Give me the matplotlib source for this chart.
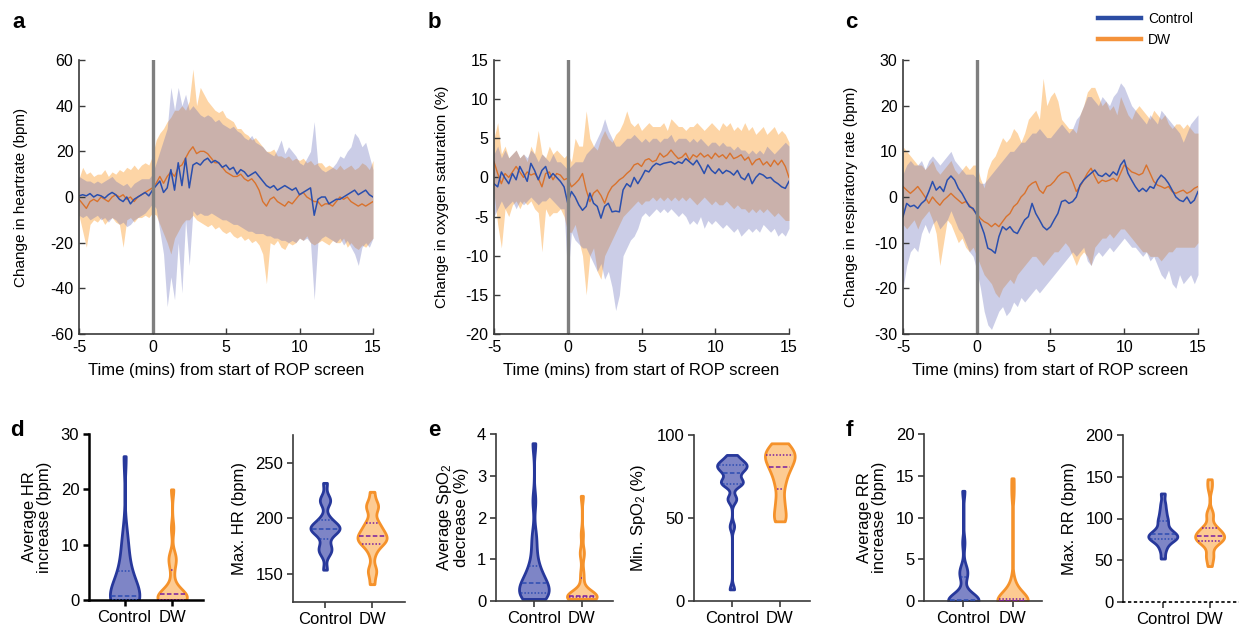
import numpy as np
import matplotlib.pyplot as plt
from matplotlib.lines import Line2D

plt.rcParams['font.family'] = ['Liberation Sans', 'DejaVu Sans']
plt.rcParams['mathtext.fontset'] = 'custom'
plt.rcParams['mathtext.rm'] = 'Liberation Sans'
plt.rcParams['mathtext.it'] = 'Liberation Sans:italic'
plt.rcParams['axes.unicode_minus'] = False

# time grid (minutes from start of ROP screen), 0.25 min steps
minutes = np.arange(-5, 15.25, 0.25)

# ---- a: heart rate change (bpm) ----
hr_ctrl_mean = [0.5, 1, 0.5, 1.5, 0, 1, 0.5, -0.5, 1, 2,
                1, -1, -2, 0, -3, -1, 0, 1, 2, 0.5,
                3, 5, 7, 2, 4, 12, 3, 15, 5, 17,
                4, 14, 15, 14, 16, 17, 15, 16, 15, 13,
                14, 12, 13, 10, 12, 11, 9, 10, 11, 9,
                7, 5, 4, 5, 3, 4, 5, 4, 3, 4,
                1, 2, 3, 4, -8, -1, 0, 0, -3, -2,
                -1, -1, 0, 1, 2, 3, 1, 2, 3, 1, 0]
hr_ctrl_hi = [9, 8, 7, 7, 6, 7, 6, 7, 8, 9,
              7, 6, 5, 6, 4, 6, 7, 8, 8, 8,
              10, 15, 20, 25, 30, 48, 38, 48, 40, 45,
              38, 40, 38, 36, 35, 36, 35, 33, 34, 32,
              31, 30, 31, 29, 28, 26, 25, 27, 24, 23,
              22, 20, 19, 18, 21, 25, 19, 22, 20, 18,
              15, 14, 17, 20, 33, 14, 12, 11, 12, 13,
              15, 18, 17, 20, 22, 28, 26, 22, 24, 18, 12]
hr_ctrl_lo = [-8, -9, -8, -10, -9, -8, -10, -9, -11, -9,
              -10, -12, -11, -13, -12, -10, -9, -8, -7, -5,
              -3, -5, -15, -25, -48, -35, -45, -20, -42, -10,
              -30, -6, -8, -7, -8, -8, -7, -8, -9, -10,
              -10, -11, -12, -12, -13, -14, -15, -15, -16, -16,
              -16, -17, -17, -18, -18, -19, -19, -20, -19, -20,
              -18, -19, -18, -20, -45, -20, -18, -17, -18, -19,
              -20, -18, -21, -19, -22, -25, -30, -22, -20, -22, -18]
hr_dw_mean = [-1, -3, -5, -2, -1, -2, 0, -1, -2, 0,
              1, 0, 1, -1, 0, -2, 0, 1, 2, 3,
              4, 6, 9, 6, 9, 11, 9, 13, 14, 17,
              20, 22, 19, 20, 20, 19, 17, 15, 15, 13,
              11, 10, 9, 9, 10, 8, 7, 8, 6, 3,
              -2, -4, -1, 0, -2, -3, -4, -2, -3, -1,
              1, 2, 0, -1, -2, -2, -4, -3, -3, -4,
              -2, 0, -1, 0, -2, -3, -4, -3, -4, -3, -2]
hr_dw_hi = [8, 13, 10, 11, 9, 10, 10, 12, 9, 11,
            10, 12, 11, 13, 12, 14, 12, 14, 15, 14,
            18, 25, 28, 30, 33, 35, 38, 38, 40, 38,
            42, 56, 40, 48, 45, 42, 40, 38, 37, 38,
            35, 34, 33, 30, 30, 28, 27, 25, 26, 24,
            22, 20, 20, 21, 18, 18, 17, 18, 16, 17,
            16, 17, 15, 16, 14, 15, 15, 13, 14, 13,
            12, 14, 12, 13, 14, 12, 13, 15, 14, 12, 16]
hr_dw_lo = [-8, -15, -22, -12, -10, -11, -9, -12, -10, -9,
            -11, -12, -22, -10, -9, -11, -9, -9, -8, -9,
            -7, -8, -12, -16, -20, -25, -18, -15, -12, -10,
            -10, -8, -10, -11, -12, -13, -12, -14, -13, -15,
            -16, -15, -17, -18, -17, -19, -18, -20, -19, -21,
            -25, -38, -20, -21, -19, -22, -23, -20, -21, -20,
            -18, -19, -17, -20, -21, -20, -19, -20, -21, -19,
            -20, -20, -18, -22, -20, -22, -23, -21, -22, -20, -18]

# ---- b: oxygen saturation change (%) ----
sat_ctrl_mean = [-0.8, -1.2, 0.7, -0.1, -0.8, 0.5, -0.3, 1.4, 0.5, -0.5,
                 1.8, 0.9, -0.3, 0.9, 1.4, -0.1, 0.5, 0, -0.5, -1.2,
                 -3.3, -1.8, -2.5, -3.5, -4.2, -3.7, -2, -3.3, -3.7, -5.2,
                 -3.7, -3.3, -4.4, -4.3, -4.4, -1.6, -0.8, -1.2, 0, -0.8,
                 0, 0.9, 0.7, 1.4, 1.8, 1.6, 1.8, 1.9, 2, 1.7,
                 2, 1.8, 2.4, 2, 1.6, 2.2, 1.4, 0.5, 1.6, 0.9,
                 0.5, 1.1, 0.5, 0.9, 0.7, 0.3, 0.9, 0, -0.3, 0.5,
                 -0.8, 0, 0.5, 0.3, -0.1, 0, -0.5, -0.8, -1.2, -1.4, -0.5]
sat_ctrl_hi = [3, 4, 2.5, 3.5, 2.5, 3, 3.5, 2.5, 3, 2.5,
               3.5, 3, 2, 3, 2.5, 2, 3, 2, 2, 1.5,
               1, 1.5, 2, 2, 2, 3, 3.5, 4, 5, 6,
               7.5, 6, 5, 4, 4, 4.5, 5, 5, 5.5, 5,
               4.5, 5, 4.5, 5, 5, 4.5, 5, 5, 5.5, 4.5,
               5, 5, 5, 4.5, 5, 4.5, 5, 4.5, 4, 4.5,
               4.5, 4, 4.5, 4, 4, 3.5, 4, 3.5, 3.5, 3,
               3.5, 3, 3.5, 3, 4, 3.5, 3, 3.5, 4, 4.5, 4]
sat_ctrl_lo = [-5, -4, -3, -4, -3.5, -3, -4, -3, -3.5, -3,
               -2.5, -3, -3.5, -3, -3, -2.5, -3, -3.5, -4, -4,
               -13, -7, -8, -8.5, -9, -9, -10, -11, -12, -11,
               -13, -12, -14, -17, -15, -10, -9, -8, -7.5, -6.5,
               -5, -4.5, -5, -4.5, -4, -4.5, -4, -4.5, -4, -4.5,
               -5, -4.5, -5, -6, -5.5, -6, -5, -6.5, -5.5, -6,
               -5.5, -6, -6.5, -6, -6.5, -7, -6.5, -7.5, -7, -6.5,
               -7, -6.5, -7, -6, -6.5, -7, -6.5, -7.5, -7, -7.5, -6.5]
sat_dw_mean = [2, 0.5, -0.8, 0.5, 0, 0.7, 1.4, 0.7, 0, 0.7,
               0.3, 0.5, -0.1, -1.2, 0.5, 0.7, -0.3, 0.5, 0.3, -0.3,
               -0.1, -1.2, -0.8, -0.3, 0.5, -1.6, -3.1, -2, -1.6, -2.3,
               -3.3, -2, -1.2, -0.8, -0.3, 0, 0.5, 0.9, 1.6, 1.8,
               1.4, 2.2, 2.4, 2, 2.2, 3.1, 2.6, 2.9, 3.5, 2.9,
               2.4, 2.6, 3.1, 2.2, 2.9, 2.6, 3.1, 2.6, 2.9, 2.4,
               3.1, 2.6, 2.9, 2.4, 3.1, 2.4, 2.6, 2.9, 2.2, 2.6,
               1.6, 2.2, 2.4, 1.6, 2, 1.4, 2.2, 1.6, 2.2, 1.4, 0]
sat_dw_hi = [5, 7, 3, 4, 2.5, 3, 3.5, 2.5, 3, 2,
             4, 3, 6, 3, 2.5, 4, 3, 3.5, 3, 2.5,
             3, 2, 5, 4, 4, 8.5, 5, 4, 3.5, 5,
             6, 5, 4.5, 5.5, 6, 7, 8.5, 7, 6.5, 7,
             6, 6.5, 7, 6.5, 6.5, 6.5, 7, 6, 7.5, 7,
             6.5, 6.5, 6, 6.5, 6.5, 7, 6.5, 6, 6.5, 7,
             6.5, 6, 7, 6.5, 7, 6, 6.5, 6, 7, 6,
             6.5, 5.5, 6, 6.5, 5.5, 6, 6.5, 5.5, 6, 5.5, 4.5]
sat_dw_lo = [-2, -6, -9, -4, -5, -3.5, -3, -4, -3, -3.5,
             -3, -4, -4.5, -9.5, -4, -5, -4.5, -4.5, -4, -5,
             -7, -7, -6, -8, -10, -15, -10, -9, -12, -13,
             -10, -9, -8, -7, -6, -5, -4.5, -4, -3.5, -3,
             -3.5, -3, -3, -2.5, -3, -2.5, -3, -2.5, -3, -2.5,
             -3, -2.5, -3, -2.5, -3, -3.5, -3, -2.5, -3, -3.5,
             -3, -3.5, -3.5, -3, -3.5, -4, -3.5, -4, -4, -4.5,
             -4, -4.5, -4, -4.5, -4, -4.5, -5, -4.5, -5, -5.5, -5.5]

# ---- c: respiratory rate change (bpm) ----
rr_ctrl_mean = [-4.3, -1.4, -2.1, -1.8, -2.5, -1.4, -0.7, 1.2, 3.4, 1.5,
                2.3, 1.2, 3.7, 4.6, 3.7, 1.9, 0.8, -0.7, -2.1, -2.5,
                -3.9, -5.8, -8, -11.2, -11.6, -12.3, -8.7, -6.5, -7.2, -6.5,
                -7.6, -8, -6.5, -5, -4.3, -1.4, -3.6, -5, -6.5, -7.2,
                -6.5, -5, -3.6, -1, -0.7, -1.4, -1, 0, 2.6, 3.7,
                4.5, 5.2, 5.9, 4.8, 4.5, 5.2, 4.5, 5.5, 4.8, 7,
                8.1, 5.2, 3.7, 2.3, 1.2, 1.9, 1.2, 2.3, 1.9, 3.7,
                4.8, 4.1, 3, 1.5, 0, -0.7, -1, 0, -1.4, -0.7, 1.2]
rr_ctrl_hi = [5, 7, 8, 7, 7, 8, 6, 8, 9, 8,
              7, 8, 9, 10, 8, 7, 6, 5, 5, 5,
              4, 3, 3, 4, 5, 6, 7, 8, 9, 10,
              10, 11, 12, 12, 13, 14, 14, 15, 14, 13,
              13, 14, 15, 16, 15, 14, 15, 17, 18, 20,
              22, 22, 21, 20, 22, 21, 20, 22, 23, 25,
              24, 22, 20, 19, 18, 17, 16, 18, 17, 16,
              19, 18, 17, 16, 15, 14, 12, 14, 16, 17, 18]
rr_ctrl_lo = [-20, -15, -12, -11, -12, -8, -6, -8, -6, -5,
              -7, -6, -5, -3, -5, -7, -8, -10, -12, -13,
              -16, -20, -25, -28, -29, -27, -25, -24, -26, -25,
              -23, -24, -22, -23, -22, -21, -20, -21, -20, -19,
              -18, -17, -16, -15, -14, -13, -12, -13, -12, -11,
              -14, -15, -13, -12, -13, -12, -11, -12, -11, -10,
              -9, -10, -11, -11, -12, -13, -12, -14, -13, -15,
              -17, -18, -16, -19, -20, -17, -19, -18, -17, -19, -17]
rr_dw_mean = [2.3, 1.5, 0.8, 1.5, 2.3, 1.2, 0, -1.4, 0, -1,
              -1.8, -0.7, 0, 0.8, 0, -0.7, -1.4, -1, -1.8, -2.8,
              -3.6, -4.7, -5.4, -5.8, -6.5, -5.8, -6.5, -5.4, -4.3, -3.6,
              -2.1, -1.4, 0, 0.8, 2.3, 3, 3.4, 1.5, 0.8, 2.3,
              2.6, 3.4, 4.5, 5.2, 5.5, 5.2, 3.4, 1.2, 2.3, 3.7,
              5.2, 6.3, 4.5, 3, 3.7, 3.4, 3.7, 4.1, 3.4, 5.2,
              7, 6.3, 5.5, 5.2, 4.8, 5.2, 7, 5.2, 3.4, 2.6,
              2.3, 1.9, 2.3, 1.2, 0.8, 1.2, 1.5, 0.8, 1.2, 1.9, 2.3]
rr_dw_hi = [11, 10, 9, 8, 7, 7, 6, 7, 8, 6,
            5, 6, 7, 8, 6, 5, 6, 7, 6, 7,
            7, 4, 2, 6, 8, 9, 11, 13, 12, 13,
            15, 14, 12, 14, 17, 18, 19, 17, 26, 20,
            22, 23, 21, 17, 16, 15, 15, 14, 18, 20,
            23, 24, 24, 22, 20, 21, 19, 20, 18, 22,
            20, 18, 17, 19, 20, 19, 18, 17, 19, 18,
            17, 18, 16, 15, 16, 16, 15, 16, 15, 14, 14]
rr_dw_lo = [-6, -7, -6, -5, -7, -5, -4, -3, -5, -8,
            -15, -10, -5, -6, -8, -10, -9, -11, -12, -11,
            -13, -15, -17, -18, -19, -21, -22, -20, -19, -18,
            -19, -17, -16, -15, -14, -13, -13, -14, -15, -14,
            -13, -12, -12, -11, -10, -11, -13, -15, -13, -12,
            -13, -15, -11, -10, -9, -9, -8, -9, -8, -7,
            -7, -8, -9, -10, -11, -12, -12, -13, -13, -13,
            -14, -13, -12, -12, -11, -11, -11, -11, -11, -11, -10]

# ---- d-f: per-infant summary values ----
groups = ['Control', 'DW']
hr_inc_ctrl = [0, 0, 0, 0, 0, 0, 0, 0.1, 0.3, 0.6, 1, 2, 3, 4, 5, 6, 8, 10, 12, 26]
hr_inc_dw = [0, 0, 0, 0, 0, 0.1, 0.2, 0.4, 0.7, 1.0, 1.1, 1.3, 1.8, 2.5, 5, 7, 7.5, 8, 13, 20]
hr_max_ctrl = [154, 168, 171, 173, 176, 183, 186, 189, 190, 191, 191, 192, 193, 195, 198, 201, 214, 216, 219, 232]
hr_max_dw = [141, 152, 154, 168, 175, 178, 179, 181, 182, 183, 185, 187, 189, 192, 195, 198, 209, 211, 213, 224]
spo2_dec_ctrl = [0.05, 0.07, 0.1, 0.13, 0.15, 0.2, 0.25, 0.3, 0.35, 0.4, 0.45, 0.5, 0.6, 0.7, 0.8, 1.0, 1.3, 1.6, 2.4, 3.78]
spo2_dec_dw = [0.05, 0.06, 0.07, 0.07, 0.08, 0.09, 0.1, 0.11, 0.12, 0.13, 0.13, 0.14, 0.15, 0.2, 0.5, 0.7, 1.1, 1.2, 1.6, 2.52]
spo2_min_ctrl = [7, 45, 61, 62, 70, 71, 71, 72, 73, 76, 78, 79, 80, 81, 82, 82, 83, 84, 86, 88]
spo2_min_dw = [48, 50, 53, 58, 62, 69, 72, 76, 79, 80, 82, 84, 86, 87, 88, 88, 90, 92, 94, 95]
rr_inc_ctrl = [0, 0, 0, 0, 0, 0, 0, 0, 0, 0.05, 0.1, 0.2, 0.5, 1, 2.8, 3.3, 3.5, 4, 7, 13.2]
rr_inc_dw = [0, 0, 0, 0, 0, 0, 0, 0, 0, 0, 0, 0, 0.05, 0.1, 0.2, 0.3, 1.9, 2.1, 12.8, 14.7]
rr_max_ctrl = [52, 62, 68, 72, 75, 76, 77, 78, 79, 80, 82, 84, 86, 90, 96, 98, 104, 110, 118, 130]
rr_max_dw = [43, 54, 56, 68, 72, 74, 75, 76, 77, 78, 80, 81, 84, 86, 88, 90, 104, 106, 137, 147]

CTRL_BAND, DW_BAND = '#626AB8', '#FB9B2C'
CTRL_LINE, DW_LINE = '#2A4FAE', '#D9722C'
CTRL_EDGE, CTRL_FILL = '#27389B', '#7E85C6'
DW_EDGE, DW_FILL = '#F5922B', '#FDCB92'
SPINE = '#3a3a3a'
TICK_FS = 11.5

W, H = 1239, 632
fig = plt.figure(figsize=(W / 100, H / 100), dpi=100)


def px_axes(x0, y0, x1, y1):
    return fig.add_axes([x0 / W, 1 - y1 / H, (x1 - x0) / W, (y1 - y0) / H])


def trace_panel(ax, cm, clo, chi, dm, dlo, dhi, ylim, yticks, ylabel, pad):
    ax.fill_between(minutes, dlo, dhi, color=DW_BAND, alpha=0.42, lw=0)
    ax.fill_between(minutes, clo, chi, color=CTRL_BAND, alpha=0.33, lw=0)
    ax.plot(minutes, dm, color=DW_LINE, lw=1.0)
    ax.plot(minutes, cm, color=CTRL_LINE, lw=1.1)
    ax.axvline(0, color='#7f7f7f', lw=2.4)
    ax.set_xlim(-5, 15)
    ax.set_ylim(*ylim)
    ax.set_xticks([-5, 0, 5, 10, 15])
    ax.set_yticks(yticks)
    for s in ['top', 'right']:
        ax.spines[s].set_visible(False)
    for s in ['left', 'bottom']:
        ax.spines[s].set_color(SPINE)
        ax.spines[s].set_linewidth(1.2)
    ax.tick_params(direction='in', length=4, width=1, color=SPINE, labelsize=TICK_FS, pad=4)
    ax.set_xlabel('Time (mins) from start of ROP screen', fontsize=12, labelpad=6)
    ax.set_ylabel(ylabel, fontsize=11, labelpad=pad)


def violin_panel(ax, data, ylim, yticks, ylabel, xlim=(0.25, 2.65), bws=(0.25, 0.25),
                 spine_w=1.2, spine_c=SPINE, dotted_base=False):
    edges = [CTRL_EDGE, DW_EDGE]
    fills = [CTRL_FILL, DW_FILL]
    inner = ['#2D4CB2', '#7A1FA0']
    for i, vals in enumerate(data):
        pos = i + 1
        parts = ax.violinplot([vals], positions=[pos], widths=0.62, showextrema=False,
                              bw_method=bws[i])
        body = parts['bodies'][0]
        body.set_facecolor(fills[i])
        body.set_edgecolor(edges[i])
        body.set_linewidth(2.0)
        body.set_alpha(1)
        body.set_zorder(2)
        v = body.get_paths()[0].vertices
        right = v[v[:, 0] >= pos]
        order = np.argsort(right[:, 1])
        ys, xs = right[order, 1], right[order, 0]
        q1, med, q3 = np.percentile(vals, [25, 50, 75])
        for q, ls in [(q1, (0, (1, 1.2))), (med, (0, (3, 1.5))), (q3, (0, (1, 1.2)))]:
            hw = np.interp(q, ys, xs) - pos - 0.03
            if hw > 0:
                ax.plot([pos - hw, pos + hw], [q, q], color=inner[i], lw=1.1,
                        ls=ls, zorder=3)
    ax.set_xlim(*xlim)
    ax.set_ylim(*ylim)
    ax.set_yticks(yticks)
    ax.set_xticks([1, 2])
    ax.set_xticklabels(groups)
    for s in ['top', 'right']:
        ax.spines[s].set_visible(False)
    for s in ['left', 'bottom']:
        ax.spines[s].set_color(spine_c)
        ax.spines[s].set_linewidth(spine_w)
    if dotted_base:
        ax.spines['bottom'].set_linestyle((0, (1, 2.5)))
        ax.spines['bottom'].set_color('black')
    ax.tick_params(direction='out', length=4, width=spine_w, color=spine_c,
                   labelsize=12, pad=3)
    ax.set_ylabel(ylabel, fontsize=12, labelpad=6, linespacing=1.0)


# top row
ax_a = px_axes(79, 60, 373, 334)
trace_panel(ax_a, hr_ctrl_mean, hr_ctrl_lo, hr_ctrl_hi, hr_dw_mean, hr_dw_lo, hr_dw_hi,
            (-60, 60), range(-60, 61, 20), 'Change in heartrate (bpm)', 16)
ax_b = px_axes(494, 60, 789, 334)
trace_panel(ax_b, sat_ctrl_mean, sat_ctrl_lo, sat_ctrl_hi, sat_dw_mean, sat_dw_lo, sat_dw_hi,
            (-20, 15), range(-20, 16, 5), 'Change in oxygen saturation (%)', 12)
ax_c = px_axes(903, 60, 1198, 334)
trace_panel(ax_c, rr_ctrl_mean, rr_ctrl_lo, rr_ctrl_hi, rr_dw_mean, rr_dw_lo, rr_dw_hi,
            (-30, 30), range(-30, 31, 10), 'Change in respiratory rate (bpm)', 12)

handles = [Line2D([], [], color='#2B4CA3', lw=3.2), Line2D([], [], color='#F4923A', lw=3.2)]
fig.legend(handles, groups, loc='upper left', bbox_to_anchor=(1092 / W, 1 - 6 / H),
           frameon=False, fontsize=10, handlelength=3.1, handletextpad=0.55,
           labelspacing=0.55, borderaxespad=0)

# bottom row
ax_d1 = px_axes(89, 434, 203, 600)
violin_panel(ax_d1, [hr_inc_ctrl, hr_inc_dw], (0, 30), [0, 10, 20, 30],
             'Average HR\nincrease (bpm)', bws=(0.45, 0.25), spine_w=1.8, spine_c='black')
ax_d2 = px_axes(293, 435, 405, 602)
violin_panel(ax_d2, [hr_max_ctrl, hr_max_dw], (125, 275), [150, 200, 250],
             'Max. HR (bpm)', xlim=(0.32, 2.7), bws=(0.25, 0.25))
ax_e1 = px_axes(496, 434, 613, 601)
violin_panel(ax_e1, [spo2_dec_ctrl, spo2_dec_dw], (0, 4), [0, 1, 2, 3, 4],
             'Average SpO$_2$\ndecrease (%)', xlim=(0.21, 2.65), bws=(0.25, 0.22))
ax_e2 = px_axes(694, 435, 810, 601)
violin_panel(ax_e2, [spo2_min_ctrl, spo2_min_dw], (0, 100), [0, 50, 100],
             'Min. SpO$_2$ (%)', xlim=(0.21, 2.63), bws=(0.14, 0.3))
ax_f1 = px_axes(924, 434, 1042, 601)
violin_panel(ax_f1, [rr_inc_ctrl, rr_inc_dw], (0, 20), [0, 5, 10, 15, 20],
             'Average RR\nincrease (bpm)', xlim=(0.2, 2.6))
ax_f2 = px_axes(1123, 435, 1241, 602)
violin_panel(ax_f2, [rr_max_ctrl, rr_max_dw], (0, 200), [0, 50, 100, 150, 200],
             'Max. RR (bpm)', xlim=(0.15, 2.67), dotted_base=True)

# panel letters
for letter, x, y in [('a', 12, 22), ('b', 428, 22), ('c', 845, 22),
                     ('d', 10, 430), ('e', 428, 430), ('f', 846, 430)]:
    fig.text(x / W, 1 - y / H, letter, fontsize=16, fontweight='bold', va='center', ha='left')

fig.savefig('out.png', dpi=100)
